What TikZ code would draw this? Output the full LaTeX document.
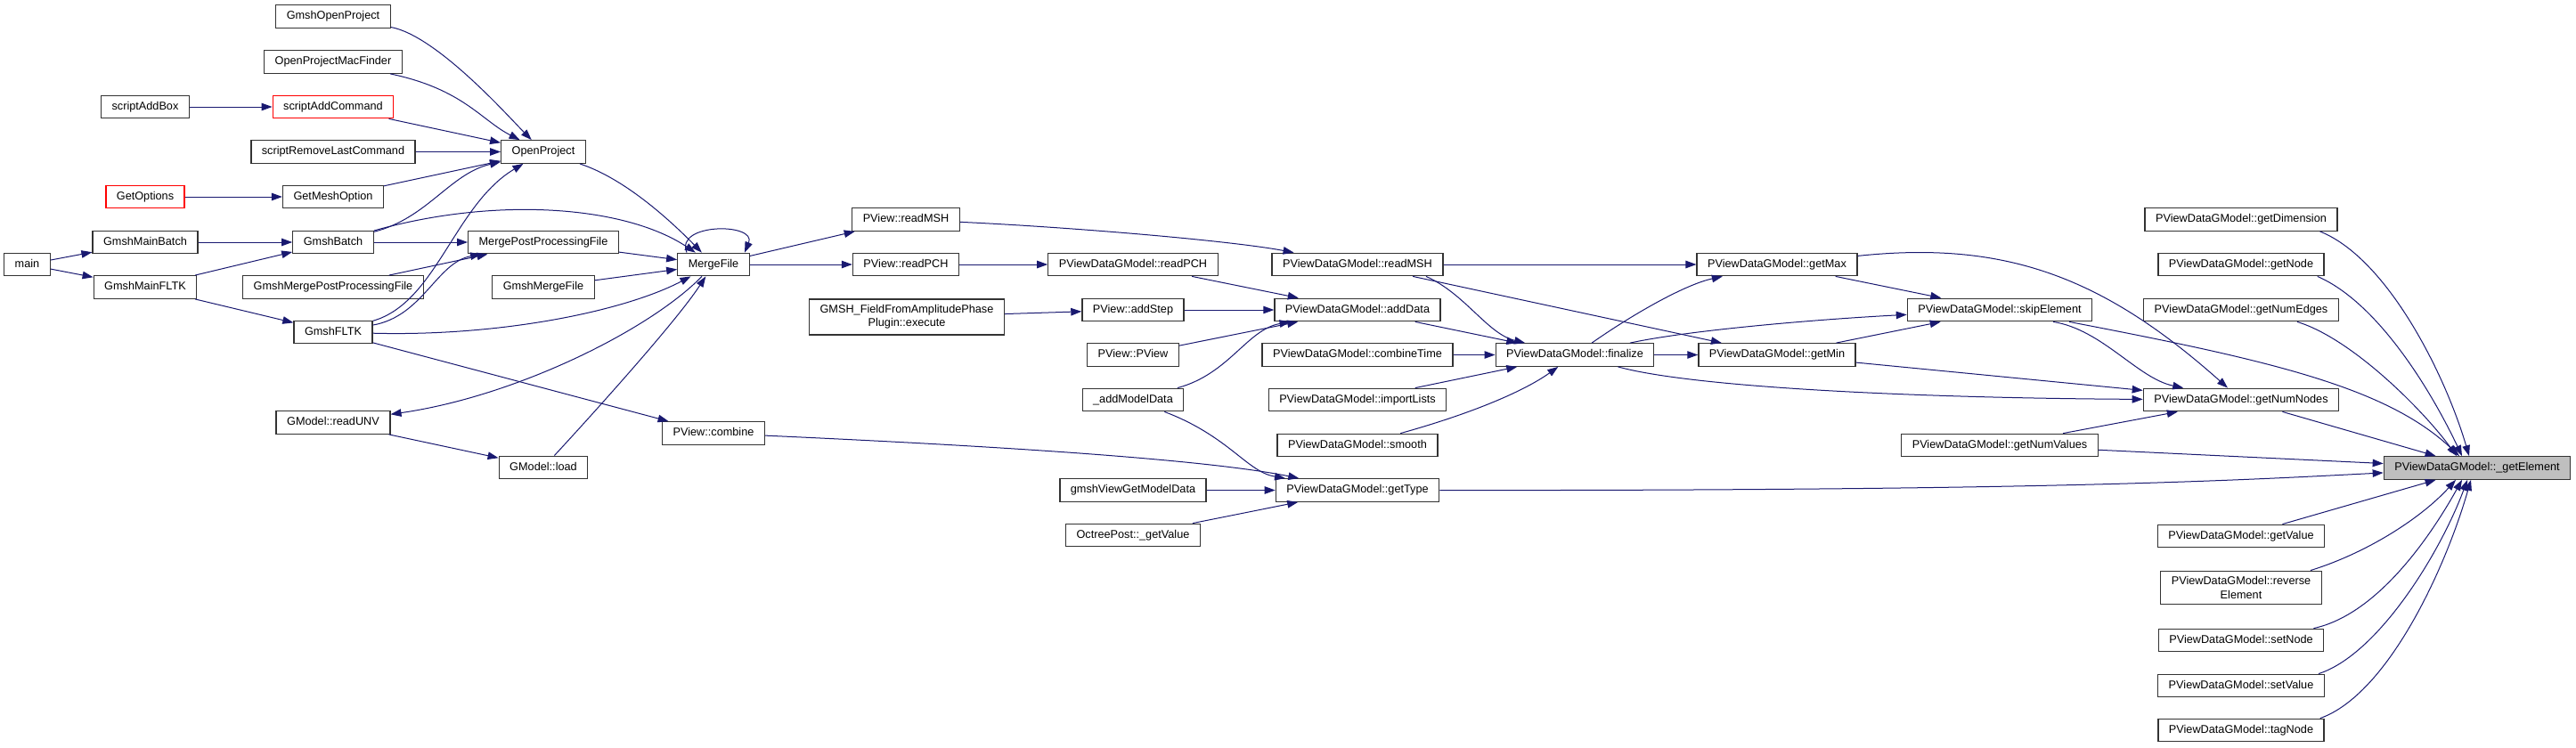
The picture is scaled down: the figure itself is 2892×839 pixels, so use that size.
\documentclass[tikz,border=0pt]{standalone}
\usepackage{fontspec}
\setmainfont{Liberation Sans}
\usepackage{tikz}
\usetikzlibrary{arrows.meta, positioning}
\definecolor{dxEdge}{HTML}{191970}
\definecolor{dxBorder}{HTML}{333333}
\definecolor{dxGray}{HTML}{BFBFBF}
\tikzset{
  fn/.style={draw=dxBorder, line width=1.3pt, fill=white,
    font=\fontsize{12.7}{15.4}\selectfont, inner xsep=12pt},
  fn1/.style={fn, minimum height=25.5pt, inner ysep=0pt,
    text height=9.2pt, text depth=2.8pt},
  fn2/.style={fn, align=center, inner ysep=6.4pt},
  call/.style={draw=dxEdge, line width=1pt,
    -{Triangle[length=12pt,width=8.5pt]}}
}

\begin{document}
\begin{tikzpicture}[x=1pt, y=-1pt]
  \useasboundingbox (0,0) rectangle (2892,839);

  \node[fn1] (gmshOpenProject) at (374,18.5) {GmshOpenProject};
  \node[fn1] (openProjectMacFinder) at (374,69.5) {OpenProjectMacFinder};
  \node[fn1] (scriptAddBox) at (163,120) {scriptAddBox};
  \node[fn1, draw=red] (scriptAddCommand) at (374,120) {scriptAddCommand};
  \node[fn1] (scriptRemoveLast) at (374,170.5) {scriptRemoveLastCommand};
  \node[fn1, draw=red] (getOptions) at (163,221) {GetOptions};
  \node[fn1] (getMeshOption) at (374,221) {GetMeshOption};
  \node[fn1] (mainFn) at (30.5,297) {main};
  \node[fn1] (gmshMainBatch) at (163,272) {GmshMainBatch};
  \node[fn1] (gmshMainFLTK) at (163,322.5) {GmshMainFLTK};
  \node[fn1] (gmshBatch) at (374,272) {GmshBatch};
  \node[fn1] (gmshMergePPF) at (374,322.5) {GmshMergePostProcessingFile};
  \node[fn1] (gmshFLTK) at (374,373) {GmshFLTK};
  \node[fn1] (gmReadUNV) at (374,474.5) {GModel::readUNV};
  \node[fn1] (openProject) at (610,170.5) {OpenProject};
  \node[fn1] (mergePPF) at (610,272) {MergePostProcessingFile};
  \node[fn1] (gmshMergeFile) at (610,322.5) {GmshMergeFile};
  \node[fn1] (gmLoad) at (610,525) {GModel::load};
  \node[fn1] (mergeFile) at (801,297) {MergeFile};
  \node[fn1] (pvCombine) at (801,486.5) {PView::combine};

  \node[fn1] (pvReadMSH) at (1017,246.5) {PView::readMSH};
  \node[fn1] (pvReadPCH) at (1017,297) {PView::readPCH};
  \node[fn2] (fieldExec) at (1018,356) {GMSH\_FieldFromAmplitudePhase\\Plugin::execute};
  \node[fn1] (pvdReadPCH) at (1272,297) {PViewDataGModel::readPCH};
  \node[fn1] (pvAddStep) at (1272,348) {PView::addStep};
  \node[fn1] (pvPView) at (1272,398.5) {PView::PView};
  \node[fn1] (addModelData) at (1272,449) {\_addModelData};
  \node[fn1] (viewGetModelData) at (1272,550.5) {gmshViewGetModelData};
  \node[fn1] (octreeGetValue) at (1272,601) {OctreePost::\_getValue};
  \node[fn1] (pvdReadMSH) at (1524,297) {PViewDataGModel::readMSH};
  \node[fn1] (pvdAddData) at (1524,348) {PViewDataGModel::addData};
  \node[fn1] (pvdCombineTime) at (1524,398.5) {PViewDataGModel::combineTime};
  \node[fn1] (pvdImportLists) at (1524,449) {PViewDataGModel::importLists};
  \node[fn1] (pvdSmooth) at (1524,500) {PViewDataGModel::smooth};
  \node[fn1] (pvdGetType) at (1524,550.5) {PViewDataGModel::getType};
  \node[fn1] (pvdFinalize) at (1768,398.5) {PViewDataGModel::finalize};
  \node[fn1] (pvdGetMax) at (1995,297) {PViewDataGModel::getMax};
  \node[fn1] (pvdGetMin) at (1995,398.5) {PViewDataGModel::getMin};
  \node[fn1] (pvdSkipElement) at (2245,348) {PViewDataGModel::skipElement};
  \node[fn1] (pvdGetNumValues) at (2245,500) {PViewDataGModel::getNumValues};

  \node[fn1] (pvdGetDimension) at (2516,246.5) {PViewDataGModel::getDimension};
  \node[fn1] (pvdGetNode) at (2516,297) {PViewDataGModel::getNode};
  \node[fn1] (pvdGetNumEdges) at (2516,348) {PViewDataGModel::getNumEdges};
  \node[fn1] (pvdGetNumNodes) at (2516,449) {PViewDataGModel::getNumNodes};
  \node[fn1] (pvdGetValue) at (2516,602) {PViewDataGModel::getValue};
  \node[fn2] (pvdReverseElement) at (2516,660) {PViewDataGModel::reverse\\Element};
  \node[fn1] (pvdSetNode) at (2516,719) {PViewDataGModel::setNode};
  \node[fn1] (pvdSetValue) at (2516,770) {PViewDataGModel::setValue};
  \node[fn1] (pvdTagNode) at (2516,820) {PViewDataGModel::tagNode};
  \node[fn1, fill=dxGray] (pvdGetElement) at (2781,525.5) {PViewDataGModel::\_getElement};

  \draw[call] (scriptAddBox) -- (scriptAddCommand);
  \draw[call] (getOptions) -- (getMeshOption);
  \draw[call] (mainFn) -- (gmshMainBatch);
  \draw[call] (mainFn) -- (gmshMainFLTK);
  \draw[call] (gmshMainBatch) -- (gmshBatch);
  \draw[call] (gmshMainFLTK) -- (gmshBatch);
  \draw[call] (gmshMainFLTK) -- (gmshFLTK);
  \draw[call] (gmshOpenProject) .. controls (490,40) and (570,130) .. (openProject);
  \draw[call] (openProjectMacFinder) .. controls (520,100) and (540,135) .. (openProject);
  \draw[call] (scriptAddCommand) -- (openProject);
  \draw[call] (scriptRemoveLast) -- (openProject);
  \draw[call] (getMeshOption) -- (openProject);
  \draw[call] (gmshBatch) .. controls (480,245) and (505,195) .. (openProject);
  \draw[call] (gmshBatch) -- (mergePPF);
  \draw[call] (gmshBatch) .. controls (554,221) and (700,230) .. (mergeFile);
  \draw[call] (gmshMergePPF) -- (mergePPF);
  \draw[call] (gmshFLTK) .. controls (490,340) and (510,230) .. (openProject);
  \draw[call] (gmshFLTK) .. controls (475,355) and (490,295) .. (mergePPF);
  \draw[call] (gmshFLTK) .. controls (560,378) and (700,350) .. (mergeFile);
  \draw[call] (gmshFLTK) -- (pvCombine);
  \draw[call] (openProject) .. controls (700,200) and (750,245) .. (mergeFile);
  \draw[call] (mergePPF) -- (mergeFile);
  \draw[call] (gmshMergeFile) -- (mergeFile);
  \draw[call] ([xshift=-30pt]mergeFile.north) .. controls (757,250) and (850,250) .. ([xshift=35pt]mergeFile.north);
  \draw[call] (mergeFile) .. controls (730,370) and (580,445) .. (gmReadUNV);
  \draw[call] (gmReadUNV) -- (gmLoad);
  \draw[call] (gmLoad) .. controls (670,460) and (760,360) .. (mergeFile);
  \draw[call] (mergeFile) -- (pvReadMSH);
  \draw[call] (mergeFile) -- (pvReadPCH);

  \draw[call] (pvReadMSH) .. controls (1200,255) and (1380,270) .. (pvdReadMSH);
  \draw[call] (pvReadPCH) -- (pvdReadPCH);
  \draw[call] (pvdReadPCH) -- (pvdAddData);
  \draw[call] (fieldExec) -- (pvAddStep);
  \draw[call] (pvAddStep) -- (pvdAddData);
  \draw[call] (pvPView) -- (pvdAddData);
  \draw[call] (addModelData) .. controls (1380,420) and (1400,370) .. (pvdAddData);
  \draw[call] (addModelData) .. controls (1380,490) and (1400,530) .. (pvdGetType);
  \draw[call] (pvCombine) .. controls (1100,500) and (1350,515) .. (pvdGetType);
  \draw[call] (viewGetModelData) -- (pvdGetType);
  \draw[call] (octreeGetValue) -- (pvdGetType);
  \draw[call] ([xshift=77pt]pvdReadMSH.south) .. controls (1645,330) and (1670,375) .. (pvdFinalize);
  \draw[call] (pvdReadMSH) -- (pvdGetMin);
  \draw[call] (pvdReadMSH) -- (pvdGetMax);
  \draw[call] (pvdAddData) -- (pvdFinalize);
  \draw[call] (pvdCombineTime) -- (pvdFinalize);
  \draw[call] (pvdImportLists) -- (pvdFinalize);
  \draw[call] (pvdSmooth) .. controls (1650,465) and (1710,440) .. (pvdFinalize);
  \draw[call] (pvdGetType) .. controls (2300,551) and (2500,540) .. (pvdGetElement);

  \draw[call] (pvdFinalize) .. controls (1830,355) and (1890,320) .. (pvdGetMax);
  \draw[call] (pvdFinalize) .. controls (1900,370) and (2050,358) .. (pvdSkipElement);
  \draw[call] (pvdFinalize) -- (pvdGetMin);
  \draw[call] (pvdFinalize) .. controls (1900,435) and (2150,447) .. (pvdGetNumNodes);
  \draw[call] (pvdGetMax) -- (pvdSkipElement);
  \draw[call] (pvdGetMax) .. controls (2250,270) and (2360,310) .. (pvdGetNumNodes);
  \draw[call] (pvdGetMin) -- (pvdSkipElement);
  \draw[call] (pvdGetMin) -- (pvdGetNumNodes);
  \draw[call] ([xshift=60pt]pvdSkipElement.south) .. controls (2360,370) and (2400,425) .. (pvdGetNumNodes);
  \draw[call] ([xshift=78pt]pvdSkipElement.south) .. controls (2550,405) and (2680,435) .. ([xshift=-20pt]pvdGetElement.north);
  \draw[call] (pvdGetNumValues) -- (pvdGetNumNodes);
  \draw[call] (pvdGetNumValues) -- (pvdGetElement);
  \draw[call] (pvdGetNumNodes) -- (pvdGetElement);

  \draw[call] ([xshift=-20pt]pvdGetDimension.south east) .. controls (2680,290) and (2745,420) .. ([xshift=-9pt]pvdGetElement.north);
  \draw[call] ([xshift=-8pt]pvdGetNode.south east) .. controls (2670,340) and (2730,440) .. ([xshift=-17pt]pvdGetElement.north);
  \draw[call] ([xshift=-47pt]pvdGetNumEdges.south east) .. controls (2640,380) and (2720,460) .. ([xshift=-23pt]pvdGetElement.north);
  \draw[call] (pvdGetValue) -- (pvdGetElement);
  \draw[call] ([xshift=-13pt]pvdReverseElement.north east) .. controls (2660,620) and (2720,580) .. ([xshift=-24pt]pvdGetElement.south);
  \draw[call] ([xshift=-12pt]pvdSetNode.north east) .. controls (2670,690) and (2730,600) .. ([xshift=-17pt]pvdGetElement.south);
  \draw[call] ([xshift=-7pt]pvdSetValue.north east) .. controls (2670,735) and (2740,620) .. ([xshift=-11pt]pvdGetElement.south);
  \draw[call] ([xshift=-5pt]pvdTagNode.north east) .. controls (2680,780) and (2745,640) .. ([xshift=-7pt]pvdGetElement.south);
\end{tikzpicture}
\end{document}
